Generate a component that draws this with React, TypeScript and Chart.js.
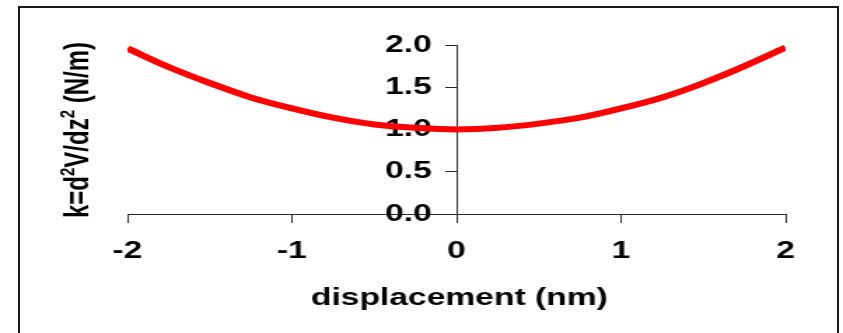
import React, { useEffect, useRef } from 'react';
import { Chart, registerables } from 'chart.js';

Chart.register(...registerables);

// ---- data ----
const displacement = [-2, -1.75, -1.5, -1.25, -1, -0.75, -0.5, -0.25, 0, 0.25, 0.5, 0.75, 1, 1.25, 1.5, 1.75, 2];
const stiffness = [1.96, 1.74, 1.55, 1.38, 1.25, 1.14, 1.06, 1.02, 1.0, 1.02, 1.07, 1.14, 1.25, 1.38, 1.55, 1.75, 1.97];
const xTickLabels = ['-2', '-1', '0', '1', '2'];
const yTickLabels = ['0.0', '0.5', '1.0', '1.5', '2.0'];
const xTitle = 'displacement (nm)';
const yTitleParts = [
  { t: 'k=d', sup: false },
  { t: '2', sup: true },
  { t: 'V/dz', sup: false },
  { t: '2', sup: true },
  { t: ' (N/m)', sup: false },
];

// ---- layout ----
const PAGE_W = 843;
const PAGE_H = 333;
const INNER_W = 602;
const STRETCH = PAGE_W / INNER_W;
const FONT = '"Liberation Sans", Arial, Helvetica, sans-serif';
const AXIS_COLOR = '#2a2a2a';
const Y_LABEL_GAP = 0.15; // gap between y axis line and its tick labels, in x units

const titlesPlugin = {
  id: 'titlesPlugin',
  afterDraw(chart: any) {
    const ctx = chart.ctx as CanvasRenderingContext2D;
    ctx.save();
    ctx.fillStyle = '#000';
    ctx.font = `bold 24px ${FONT}`;
    ctx.textAlign = 'center';
    ctx.textBaseline = 'alphabetic';
    ctx.fillText(xTitle, 328, 305);

    ctx.translate(62.5, 130);
    ctx.rotate(-Math.PI / 2);
    const mainFont = `bold 24px ${FONT}`;
    const supFont = `bold 15px ${FONT}`;
    let total = 0;
    for (const p of yTitleParts) {
      ctx.font = p.sup ? supFont : mainFont;
      total += ctx.measureText(p.t).width;
    }
    let x = -total / 2;
    ctx.textAlign = 'left';
    for (const p of yTitleParts) {
      ctx.font = p.sup ? supFont : mainFont;
      ctx.fillText(p.t, x, p.sup ? -10 : 0);
      x += ctx.measureText(p.t).width;
    }
    ctx.restore();
  },
};

export default function App() {
  const canvasRef = useRef<HTMLCanvasElement | null>(null);

  useEffect(() => {
    if (!canvasRef.current) return;
    const tickFont = { family: FONT, size: 24, weight: 'bold' };
    const chart = new Chart(canvasRef.current, {
      type: 'line',
      data: {
        datasets: [
          {
            data: displacement.map((x, i) => ({ x, y: stiffness[i] })),
            borderColor: '#ff0000',
            backgroundColor: '#ff0000',
            borderWidth: 6,
            pointRadius: 0,
            fill: false,
            cubicInterpolationMode: 'monotone',
            xAxisID: 'x',
            yAxisID: 'y',
          },
        ],
      },
      options: {
        animation: false,
        responsive: true,
        maintainAspectRatio: false,
        layout: { padding: { left: 91, right: 41, top: 45, bottom: 119 } },
        plugins: { legend: { display: false }, tooltip: { enabled: false } },
        scales: {
          x: {
            type: 'linear',
            position: { y: 0 } as any,
            min: -2,
            max: 2,
            grid: { drawOnChartArea: false, drawTicks: true, tickLength: 8, color: AXIS_COLOR, tickWidth: 1 },
            border: { display: true, color: AXIS_COLOR, width: 1 },
            ticks: {
              stepSize: 1,
              color: '#000',
              padding: 15,
              maxRotation: 0,
              font: tickFont,
              callback: (_v: any, i: number) => xTickLabels[i],
            },
          },
          y: {
            type: 'linear',
            position: { x: 0 } as any,
            min: 0,
            max: 2,
            grid: { drawOnChartArea: false, drawTicks: true, tickLength: 8, color: AXIS_COLOR, tickWidth: 1 },
            border: { display: true, color: AXIS_COLOR, width: 1 },
            ticks: { stepSize: 0.5, display: false },
          },
          yLabels: {
            type: 'linear',
            axis: 'y',
            position: { x: -Y_LABEL_GAP } as any,
            min: 0,
            max: 2,
            z: 1,
            grid: { display: false, drawTicks: false },
            border: { display: false },
            ticks: {
              stepSize: 0.5,
              color: '#000',
              padding: 0,
              font: tickFont,
              callback: (_v: any, i: number) => yTickLabels[i],
            },
          },
        },
      } as any,
      plugins: [titlesPlugin],
    });
    return () => chart.destroy();
  }, []);

  return (
    <div
      style={{
        position: 'fixed',
        left: 0,
        top: 0,
        width: PAGE_W,
        height: PAGE_H,
        overflow: 'hidden',
        background: '#fff',
      }}
    >
      <div
        style={{
          position: 'absolute',
          left: 0,
          top: 0,
          width: INNER_W,
          height: PAGE_H,
          transform: `scaleX(${STRETCH})`,
          transformOrigin: '0 0',
        }}
      >
        <canvas ref={canvasRef} />
      </div>
      <div
        style={{
          position: 'absolute',
          left: 18,
          top: 6,
          width: 817,
          height: 325,
          borderTop: '2px solid #1a1a1a',
          borderLeft: '2px solid #1a1a1a',
          borderRight: '2px solid #1a1a1a',
          pointerEvents: 'none',
        }}
      />
    </div>
  );
}
